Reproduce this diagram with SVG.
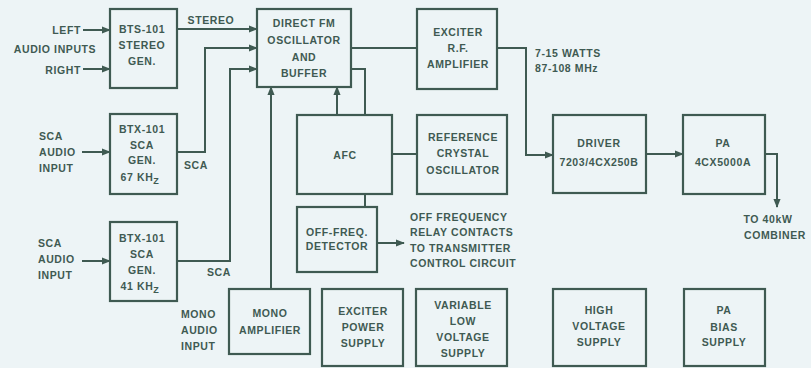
<svg xmlns="http://www.w3.org/2000/svg" width="811" height="368" viewBox="0 0 811 368">
<defs>
<marker id="ah" viewBox="0 0 10 10" refX="9" refY="5" markerWidth="4.5" markerHeight="4.5" orient="auto" markerUnits="strokeWidth">
<path d="M0,1 L10,5 L0,9 z" fill="#3f5a52"/>
</marker>
</defs>
<style>
.b{fill:none;stroke:#3f5a52;stroke-width:2.2}
.c{fill:none;stroke:#3f5a52;stroke-width:2}
.a{marker-end:url(#ah)}
text{font-family:"Liberation Sans",Arial,sans-serif;font-weight:bold;font-size:10.5px;fill:#3f5a52;letter-spacing:0.6px;text-anchor:middle}
.l{text-anchor:start}
.r{text-anchor:end}
</style>
<rect width="811" height="368" fill="#edf4f6"/>
<g id="connectors">
<path class="c a" d="M83,30 H110"/>
<path class="c a" d="M83,69 H110"/>
<path class="c a" d="M177,29 H257"/>
<path class="c a" d="M82,152 H110"/>
<path class="c a" d="M82,261 H110"/>
<path class="c a" d="M177,152 H205 V48 H257"/>
<path class="c a" d="M177,261 H230 V69 H257"/>
<path class="c a" d="M271,289 V87"/>
<path class="c a" d="M337,115 V87"/>
<path class="c" d="M351,69 H365 V115"/>
<path class="c" d="M351,48 H417"/>
<path class="c a" d="M497,48 H526 V155 H553"/>
<path class="c" d="M392,154 H417"/>
<path class="c" d="M365,194 V207"/>
<path class="c a" d="M377,243 H404"/>
<path class="c a" d="M646,154 H683"/>
<path class="c a" d="M765,154 H777 V207"/>
</g>
<g id="labels">
<text class="r" x="81" y="34">LEFT</text>
<text x="55" y="53">AUDIO INPUTS</text>
<text class="r" x="81" y="74">RIGHT</text>
<text x="211" y="24">STEREO</text>
<text class="l" x="39" y="140">SCA</text>
<text class="l" x="39" y="156">AUDIO</text>
<text class="l" x="39" y="172">INPUT</text>
<text x="196" y="169">SCA</text>
<text class="l" x="38" y="247">SCA</text>
<text class="l" x="38" y="263">AUDIO</text>
<text class="l" x="38" y="279">INPUT</text>
<text x="219" y="276">SCA</text>
<text class="l" x="181" y="318">MONO</text>
<text class="l" x="181" y="334">AUDIO</text>
<text class="l" x="181" y="350">INPUT</text>
<text class="l" x="535" y="57">7-15 WATTS</text>
<text class="l" x="535" y="72">87-108 MHz</text>
<text class="l" x="410" y="221">OFF FREQUENCY</text>
<text class="l" x="410" y="236">RELAY CONTACTS</text>
<text class="l" x="410" y="252">TO TRANSMITTER</text>
<text class="l" x="410" y="267">CONTROL CIRCUIT</text>
<text x="768" y="223">TO 40kW</text>
<text x="775" y="239">COMBINER</text>
</g>
<g id="stereo-gen">
<rect class="b" x="110" y="9" width="67" height="79"/>
<text x="142" y="33">BTS-101</text>
<text x="142" y="49">STEREO</text>
<text x="142" y="65">GEN.</text>
</g>
<g id="direct-fm">
<rect class="b" x="257" y="9" width="94" height="78"/>
<text x="304" y="27">DIRECT FM</text>
<text x="304" y="44">OSCILLATOR</text>
<text x="304" y="61">AND</text>
<text x="304" y="77">BUFFER</text>
</g>
<g id="exciter">
<rect class="b" x="417" y="9" width="80" height="80"/>
<text x="458" y="36">EXCITER</text>
<text x="458" y="52">R.F.</text>
<text x="458" y="68">AMPLIFIER</text>
</g>
<g id="sca67">
<rect class="b" x="110" y="114" width="67" height="80"/>
<text x="142" y="133">BTX-101</text>
<text x="142" y="149">SCA</text>
<text x="142" y="164">GEN.</text>
<text x="140" y="181">67 KH<tspan dy="3" font-size="9">Z</tspan></text>
</g>
<g id="sca41">
<rect class="b" x="110" y="222" width="67" height="79"/>
<text x="142" y="242">BTX-101</text>
<text x="142" y="258">SCA</text>
<text x="142" y="274">GEN.</text>
<text x="140" y="290">41 KH<tspan dy="3" font-size="9">Z</tspan></text>
</g>
<g id="afc">
<rect class="b" x="297" y="115" width="95" height="79"/>
<text x="345" y="159">AFC</text>
</g>
<g id="reference">
<rect class="b" x="417" y="115" width="90" height="79"/>
<text x="463" y="141">REFERENCE</text>
<text x="463" y="157">CRYSTAL</text>
<text x="463" y="174">OSCILLATOR</text>
</g>
<g id="detector">
<rect class="b" x="297" y="207" width="80" height="65"/>
<text x="337" y="236">OFF-FREQ.</text>
<text x="337" y="250">DETECTOR</text>
</g>
<g id="driver">
<rect class="b" x="553" y="115" width="93" height="78"/>
<text x="599" y="147">DRIVER</text>
<text x="599" y="166" letter-spacing="0">7203/4CX250B</text>
</g>
<g id="pa">
<rect class="b" x="683" y="115" width="82" height="79"/>
<text x="723" y="147">PA</text>
<text x="723" y="166">4CX5000A</text>
</g>
<g id="mono-amp">
<rect class="b" x="229" y="289" width="81" height="65"/>
<text x="270" y="317">MONO</text>
<text x="270" y="334">AMPLIFIER</text>
</g>
<g id="exciter-ps">
<rect class="b" x="322" y="289" width="81" height="77"/>
<text x="363" y="315">EXCITER</text>
<text x="363" y="331">POWER</text>
<text x="363" y="347">SUPPLY</text>
</g>
<g id="variable-lv">
<rect class="b" x="416" y="289" width="91" height="77"/>
<text x="463" y="309">VARIABLE</text>
<text x="463" y="325">LOW</text>
<text x="463" y="341">VOLTAGE</text>
<text x="463" y="357">SUPPLY</text>
</g>
<g id="hv-supply">
<rect class="b" x="553" y="289" width="93" height="77"/>
<text x="599" y="314">HIGH</text>
<text x="599" y="330">VOLTAGE</text>
<text x="599" y="346">SUPPLY</text>
</g>
<g id="pa-bias">
<rect class="b" x="684" y="289" width="81" height="77"/>
<text x="724" y="314">PA</text>
<text x="724" y="331">BIAS</text>
<text x="724" y="346">SUPPLY</text>
</g>
</svg>
